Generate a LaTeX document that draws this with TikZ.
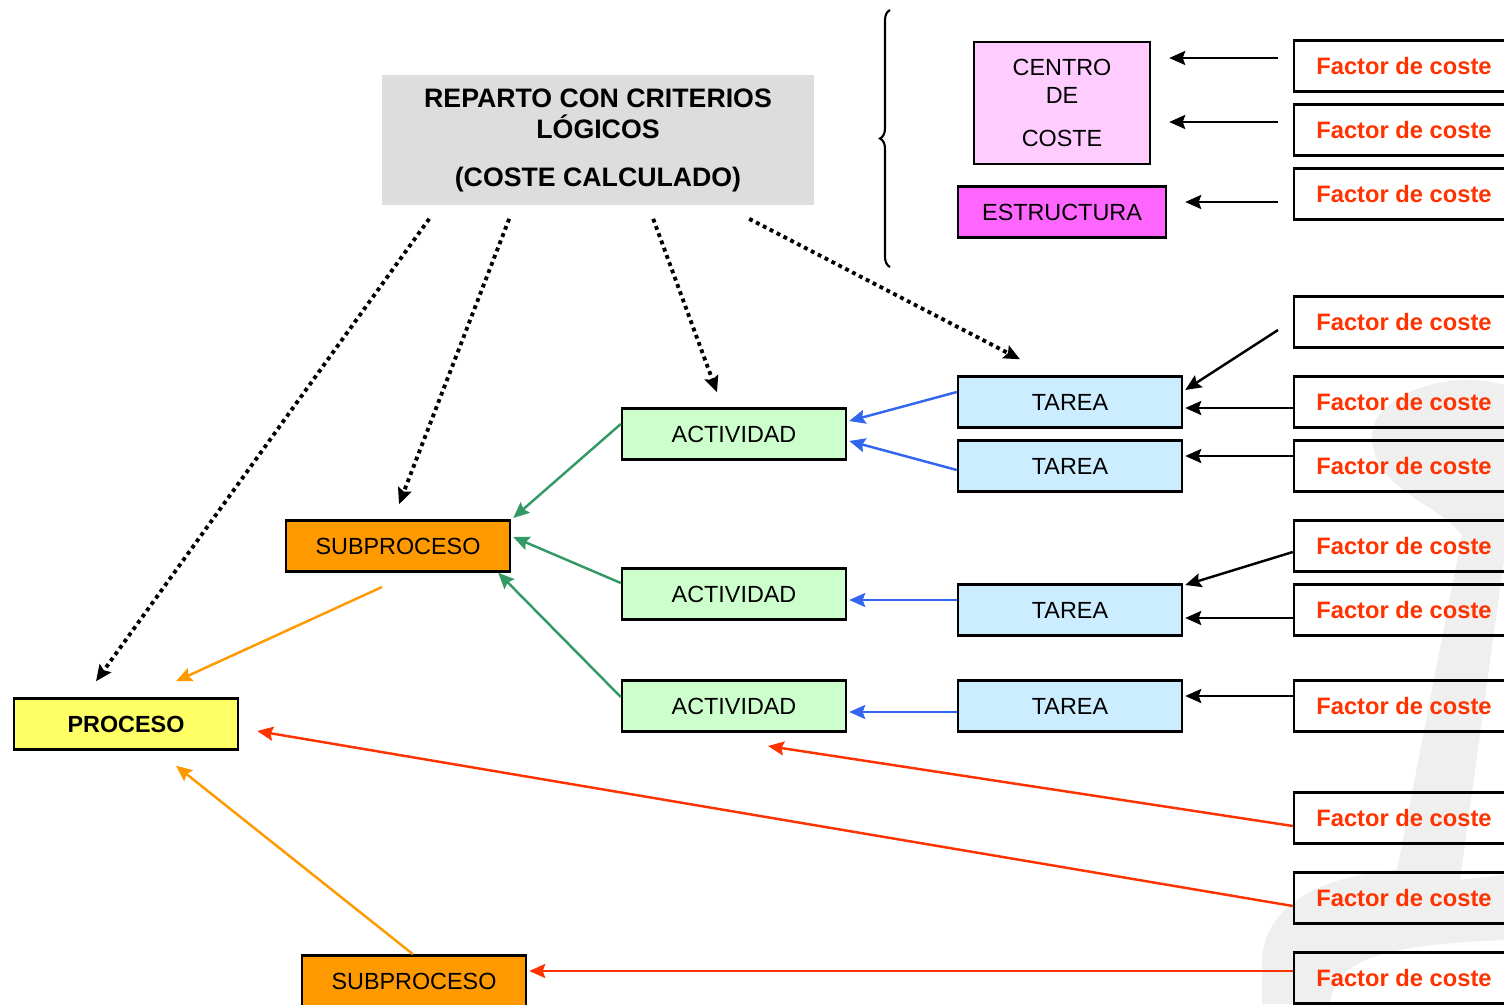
\documentclass[tikz,border=0pt]{standalone}
\usepackage{fontspec}
\setmainfont{Liberation Sans}
\usetikzlibrary{arrows.meta,calc,decorations.pathreplacing}

\definecolor{titleGray}{HTML}{DDDDDD}
\definecolor{centroPink}{HTML}{FFCCFF}
\definecolor{estructuraPink}{HTML}{FF66FF}
\definecolor{tareaBlue}{HTML}{CCECFF}
\definecolor{actividadGreen}{HTML}{CCFFCC}
\definecolor{subprocesoOrange}{HTML}{FF9900}
\definecolor{procesoYellow}{HTML}{FFFF66}
\definecolor{factorRed}{HTML}{FF3300}
\definecolor{lineBlue}{HTML}{3366EE}
\definecolor{lineGreen}{HTML}{339966}
\definecolor{markGray}{HTML}{EFEFEF}

\begin{document}
\begin{tikzpicture}
[x=0.02cm,y=-0.02cm,
  boxDecorate/.style={draw,line width=1.4pt,inner sep=0pt,minimum width=4.48cm,
    minimum height=1.02cm,font=\fontsize{13.3}{16}\selectfont},
  tareaDecorate/.style={boxDecorate,fill=tareaBlue},
  actividadDecorate/.style={boxDecorate,fill=actividadGreen},
  subprocesoDecorate/.style={boxDecorate,fill=subprocesoOrange},
  factorDecorate/.style={boxDecorate,minimum width=4.4cm,text=factorRed,
    font=\fontsize{13.5}{16}\selectfont\bfseries},
  arrowDecorate/.style={-{Stealth[length=3.2mm,width=2.8mm,inset=0.5mm]},line width=1.4pt},
  dotDecorate/.style={arrowDecorate,line width=2.2pt,dash pattern=on 2.2pt off 2.2pt}]
\useasboundingbox (0,0) rectangle (1504,1004);
\clip (0,0) rectangle (1504,1004);

%% faint mark behind the right column
\fill[markGray] (1504,385) .. controls (1450,368) and (1368,395) .. (1372,440)
  .. controls (1376,490) and (1440,505) .. (1462,535) -- (1397,870)
  .. controls (1330,875) and (1265,900) .. (1262,960) -- (1262,1004) -- (1330,1004)
  .. controls (1335,960) and (1380,945) .. (1504,940) -- (1504,875) -- (1460,880)
  -- (1504,560) -- cycle;

%% title, brace and upper boxes
\node (title) at (598,140) [fill=titleGray,minimum width=8.66cm,minimum height=2.62cm,
  align=center,font=\fontsize{15.2}{18}\selectfont\bfseries]
  {REPARTO CON CRITERIOS\\LÓGICOS\\[9pt](COSTE CALCULADO)};
\draw[line width=1.2pt,decorate,decoration={brace,amplitude=0.2cm}] (890,267) -- (890,10);
\node (centro) at (1062,103) [boxDecorate,fill=centroPink,minimum width=3.52cm,
  minimum height=2.44cm,align=center] {CENTRO\\DE\\[8.5pt]COSTE};
\node (estr) at (1062,212) [boxDecorate,fill=estructuraPink,minimum width=4.16cm]
  {ESTRUCTURA};

%% factors
\foreach \nodename/\y in {f1/66, f2/130, f3/194, f4/322, f5/402, f6/466,
  f7/546, f8/610, f9/706, f10/818, f11/898, f12/978}
{
  \node (\nodename) at (1404,\y) [factorDecorate] {Factor de coste};
}

%% tasks, activities and processes
\foreach \nodename/\y in {T1/402, T2/466, T3/610, T4/706}
  \node (\nodename) at (1070,\y) [tareaDecorate] {TAREA};
\foreach \nodename/\y in {A1/434, A2/594, A3/706}
  \node (\nodename) at (734,\y) [actividadDecorate] {ACTIVIDAD};
\node (SP1) at (398,546) [subprocesoDecorate] {SUBPROCESO};
\node (SP2) at (414,981) [subprocesoDecorate] {SUBPROCESO};
\node (proc) at (126,724) [boxDecorate,fill=procesoYellow,font=\fontsize{13.3}{16}\selectfont\bfseries]
  {PROCESO};

%% free ends
\coordinate (c1) at (1278,58);
\coordinate (c2) at (1278,122);
\coordinate (c3) at (1278,202);
\coordinate (c4) at (1278,330);
\coordinate (o1) at (382,587);
\coordinate (r1) at (768,746);
\coordinate (d1) at ($(title.south west)+(48,13)$);
\coordinate (d2) at ($(title.south west)+(128,13)$);
\coordinate (d3) at ($(title.south west)+(272,13)$);
\coordinate (d4) at ($(title.south west)+(368,13)$);

%% black arrows
\path
\foreach \startnode/\sx/\sy/\endnode/\ex/\ey in {
  c1/0/0/centro.east/18/-45, c2/0/0/centro.east/18/19,
  c3/0/0/estr.east/18/-10, c4/0/0/T1.east/2/-12,
  f5.west/0/6/T1.east/2/6, f6.west/0/-10/T2.east/2/-10,
  f7.west/0/6/T3.east/2/-25, f8.west/0/8/T3.east/2/8,
  f9.west/0/-10/T4.east/2/-10}
{
  ([shift={(\sx,\sy)}]\startnode) edge[arrowDecorate] ([shift={(\ex,\ey)}]\endnode)
};

%% blue arrows
\path
\foreach \startnode/\sx/\sy/\endnode/\ex/\ey in {
  T1.west/0/-10/A1.east/2/-13, T2.west/0/4/A1.east/2/7,
  T3.west/0/-10/A2.east/2/6, T4.west/0/6/A3.east/2/6}
{
  ([shift={(\sx,\sy)}]\startnode) edge[arrowDecorate,lineBlue] ([shift={(\ex,\ey)}]\endnode)
};

%% green arrows
\path
\foreach \startnode/\sx/\sy/\endnode/\ex/\ey in {
  A1.west/0/-10/SP1.east/2/-28, A2.west/0/-11/SP1.east/2/-9,
  A3.west/0/-9/SP1.south east/-13/0}
{
  ([shift={(\sx,\sy)}]\startnode) edge[arrowDecorate,lineGreen] ([shift={(\ex,\ey)}]\endnode)
};

%% orange and red arrows
\path
\foreach \startnode/\sx/\sy/\endnode/\ex/\ey/\colour in {
  o1/0/0/proc.north/50/-16/subprocesoOrange,
  SP2.north/-1/0/proc.south/50/15/subprocesoOrange,
  f10.west/0/8/r1/0/0/factorRed,
  f11.west/0/8/proc.east/18/7/factorRed,
  f12.west/0/-7/SP2.east/2/-10/factorRed}
{
  ([shift={(\sx,\sy)}]\startnode) edge[arrowDecorate,\colour] ([shift={(\ex,\ey)}]\endnode)
};

%% dotted arrows from the title
\path
\foreach \startnode/\endnode/\ex/\ey in {
  d1/proc.north/-30/-16, d2/SP1.north/1/-15,
  d3/A1.north/-17/-15, d4/T1.north/-50/-16}
{
  (\startnode) edge[dotDecorate] ([shift={(\ex,\ey)}]\endnode)
};
\end{tikzpicture}
\end{document}
